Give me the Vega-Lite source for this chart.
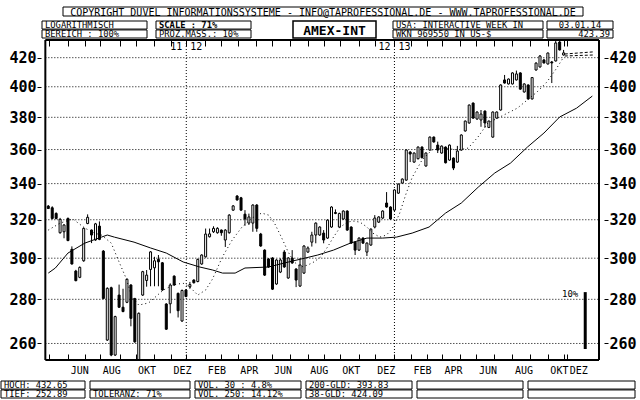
{
  "$schema": "https://vega.github.io/schema/vega-lite/v6.json",
  "background": "white",
  "padding": {"top": 6, "left": 0, "right": 0, "bottom": 0},
  "spacing": 0,
  "config": {
    "view": {"stroke": null},
    "font": "DejaVu Sans Mono",
    "text": {"color": "black"}
  },
  "datasets": {
    "hdr": [
      {"box": "C", "line": "1", "t": "COPYRIGHT  DUVEL INFORMATIONSSYSTEME - INFO@TAPROFESSIONAL.DE - WWW.TAPROFESSIONAL.DE"},
      {"box": "L", "line": "1", "t": "LOGARITHMISCH"},
      {"box": "L", "line": "2", "t": "BEREICH :    100%"},
      {"box": "S", "line": "1", "t": "SCALE : 71%"},
      {"box": "S", "line": "2", "t": "PROZ.MASS.:  10%"},
      {"box": "N", "line": "1", "t": "AMEX-INT"},
      {"box": "U", "line": "1", "t": "USA: INTERACTIVE WEEK IN"},
      {"box": "U", "line": "2", "t": "WKN 969550  IN US-$"},
      {"box": "D", "line": "1", "t": "03.01.14"},
      {"box": "D", "line": "2", "t": "423.39"}
    ],
    "ftr": [
      {"box": "F1", "line": "1", "t": "HOCH: 432.65"},
      {"box": "F1", "line": "2", "t": "TIEF: 252.89"},
      {"box": "F2", "line": "1", "t": ""},
      {"box": "F2", "line": "2", "t": "TOLERANZ: 71%"},
      {"box": "F3", "line": "1", "t": "VOL. 30 :  4.8%"},
      {"box": "F3", "line": "2", "t": "VOL. 250: 14.12%"},
      {"box": "F4", "line": "1", "t": "200-GLD: 393.83"},
      {"box": "F4", "line": "2", "t": "38-GLD: 424.09"},
      {"box": "F5", "line": "1", "t": ""},
      {"box": "F5", "line": "2", "t": ""},
      {"box": "F6", "line": "1", "t": ""},
      {"box": "F6", "line": "2", "t": ""}
    ],
    "years": [
      {"i": 36.08, "a": "11", "b": "12"},
      {"i": 89, "a": "12", "b": "13"}
    ],
    "levels": [
      {"v": 260}, {"v": 280}, {"v": 300}, {"v": 320}, {"v": 340}, {"v": 360}, {"v": 380}, {"v": 400}, {"v": 420}
    ],
    "candles": [
      {"i":1,"o":327.4,"h":328.0,"l":325.8,"c":326.1},
      {"i":2,"o":326.5,"h":327.3,"l":320.2,"c":320.7},
      {"i":3,"o":323.4,"h":324.0,"l":320.2,"c":320.7},
      {"i":4,"o":313.1,"h":321.0,"l":312.6,"c":320.2},
      {"i":5,"o":313.6,"h":317.6,"l":310.2,"c":317.2},
      {"i":6,"o":320.7,"h":321.2,"l":308.7,"c":309.0},
      {"i":7,"o":304.5,"h":306.0,"l":296.8,"c":297.1},
      {"i":8,"o":293.6,"h":294.2,"l":288.6,"c":288.9},
      {"i":9,"o":290.5,"h":295.9,"l":290.1,"c":295.4},
      {"i":10,"o":298.7,"h":315.8,"l":298.2,"c":315.4},
      {"i":11,"o":318.0,"h":322.9,"l":317.6,"c":321.3},
      {"i":12,"o":314.5,"h":314.8,"l":307.7,"c":311.9},
      {"i":13,"o":309.3,"h":318.3,"l":308.9,"c":317.8},
      {"i":14,"o":316.6,"h":319.1,"l":309.2,"c":309.6},
      {"i":15,"o":303.6,"h":304.1,"l":280.0,"c":280.4},
      {"i":16,"o":261.5,"h":285.7,"l":261.1,"c":285.2},
      {"i":17,"o":285.5,"h":286.0,"l":254.5,"c":255.0},
      {"i":18,"o":255.0,"h":272.4,"l":254.6,"c":272.0},
      {"i":19,"o":282.0,"h":287.0,"l":276.0,"c":276.3},
      {"i":20,"o":276.3,"h":285.0,"l":274.0,"c":274.3},
      {"i":21,"o":278.6,"h":290.0,"l":278.2,"c":289.6},
      {"i":22,"o":286.8,"h":287.2,"l":267.6,"c":271.2},
      {"i":23,"o":280.3,"h":280.7,"l":260.3,"c":260.7},
      {"i":24,"o":252.9,"h":273.9,"l":252.9,"c":273.5},
      {"i":25,"o":282.0,"h":293.7,"l":281.6,"c":293.3},
      {"i":26,"o":289.0,"h":294.1,"l":286.0,"c":291.6},
      {"i":27,"o":294.4,"h":303.6,"l":286.2,"c":303.2},
      {"i":28,"o":295.2,"h":300.7,"l":286.2,"c":298.7},
      {"i":29,"o":299.4,"h":301.6,"l":286.2,"c":298.2},
      {"i":30,"o":297.7,"h":298.1,"l":284.0,"c":284.4},
      {"i":31,"o":277.8,"h":278.2,"l":266.0,"c":266.3},
      {"i":32,"o":277.9,"h":287.6,"l":273.5,"c":286.8},
      {"i":33,"o":291.1,"h":291.5,"l":286.4,"c":286.8},
      {"i":34,"o":282.8,"h":283.2,"l":271.6,"c":274.7},
      {"i":35,"o":270.0,"h":284.6,"l":269.6,"c":284.2},
      {"i":36,"o":284.4,"h":284.8,"l":281.0,"c":281.3},
      {"i":37,"o":286.0,"h":288.3,"l":285.0,"c":287.0},
      {"i":38,"o":289.2,"h":289.6,"l":287.5,"c":287.9},
      {"i":39,"o":288.5,"h":299.8,"l":288.1,"c":299.4},
      {"i":40,"o":297.1,"h":302.0,"l":296.7,"c":301.6},
      {"i":41,"o":300.7,"h":315.3,"l":300.3,"c":312.4},
      {"i":42,"o":311.0,"h":315.3,"l":310.6,"c":312.5},
      {"i":43,"o":313.6,"h":316.5,"l":313.0,"c":315.4},
      {"i":44,"o":313.1,"h":316.0,"l":312.6,"c":315.4},
      {"i":45,"o":314.5,"h":314.8,"l":311.5,"c":313.1},
      {"i":46,"o":309.3,"h":315.0,"l":305.7,"c":314.5},
      {"i":47,"o":313.1,"h":323.0,"l":312.6,"c":322.5},
      {"i":48,"o":325.2,"h":328.0,"l":324.8,"c":327.5},
      {"i":49,"o":333.0,"h":333.5,"l":330.4,"c":330.8},
      {"i":50,"o":332.0,"h":332.5,"l":324.8,"c":325.2},
      {"i":51,"o":323.0,"h":325.2,"l":316.8,"c":320.4},
      {"i":52,"o":318.2,"h":323.3,"l":317.2,"c":321.5},
      {"i":53,"o":318.2,"h":328.4,"l":313.6,"c":328.0},
      {"i":54,"o":328.0,"h":328.5,"l":313.6,"c":315.4},
      {"i":55,"o":312.4,"h":313.0,"l":305.8,"c":306.2},
      {"i":56,"o":304.1,"h":304.5,"l":291.2,"c":291.6},
      {"i":57,"o":299.6,"h":300.0,"l":295.2,"c":295.6},
      {"i":58,"o":300.1,"h":300.5,"l":284.4,"c":284.8},
      {"i":59,"o":287.3,"h":299.5,"l":286.9,"c":299.1},
      {"i":60,"o":293.1,"h":299.9,"l":292.6,"c":299.1},
      {"i":61,"o":303.1,"h":304.1,"l":295.2,"c":295.6},
      {"i":62,"o":290.2,"h":300.5,"l":289.8,"c":300.1},
      {"i":63,"o":300.1,"h":304.1,"l":297.2,"c":297.6},
      {"i":64,"o":294.6,"h":295.0,"l":285.8,"c":289.2},
      {"i":65,"o":286.3,"h":300.1,"l":285.9,"c":296.6},
      {"i":66,"o":292.6,"h":306.6,"l":292.2,"c":306.2},
      {"i":67,"o":303.1,"h":306.0,"l":302.7,"c":305.2},
      {"i":68,"o":308.2,"h":313.6,"l":305.9,"c":311.9},
      {"i":69,"o":311.9,"h":318.6,"l":307.6,"c":318.2},
      {"i":70,"o":311.9,"h":316.5,"l":311.5,"c":316.1},
      {"i":71,"o":312.9,"h":314.5,"l":307.6,"c":309.3},
      {"i":72,"o":310.3,"h":320.2,"l":309.9,"c":319.8},
      {"i":73,"o":316.1,"h":327.3,"l":315.7,"c":326.9},
      {"i":74,"o":323.9,"h":325.6,"l":323.0,"c":323.4},
      {"i":75,"o":316.1,"h":323.8,"l":315.7,"c":323.4},
      {"i":76,"o":320.4,"h":325.1,"l":320.0,"c":324.7},
      {"i":77,"o":324.7,"h":325.1,"l":314.1,"c":314.5},
      {"i":78,"o":316.1,"h":316.5,"l":307.3,"c":307.7},
      {"i":79,"o":308.2,"h":308.6,"l":301.6,"c":304.1},
      {"i":80,"o":304.1,"h":310.7,"l":303.7,"c":310.3},
      {"i":81,"o":310.3,"h":310.7,"l":307.3,"c":307.7},
      {"i":82,"o":303.1,"h":308.1,"l":301.1,"c":307.7},
      {"i":83,"o":306.7,"h":315.4,"l":306.3,"c":315.0},
      {"i":84,"o":316.1,"h":322.5,"l":315.4,"c":320.9},
      {"i":85,"o":318.7,"h":321.9,"l":318.3,"c":321.5},
      {"i":86,"o":320.9,"h":325.1,"l":320.5,"c":324.7},
      {"i":87,"o":329.1,"h":335.2,"l":326.5,"c":326.9},
      {"i":88,"o":326.9,"h":327.3,"l":320.0,"c":320.4},
      {"i":89,"o":325.2,"h":336.8,"l":324.8,"c":336.4},
      {"i":90,"o":334.6,"h":340.1,"l":334.2,"c":339.7},
      {"i":91,"o":340.3,"h":343.0,"l":339.9,"c":342.6},
      {"i":92,"o":342.0,"h":360.1,"l":341.6,"c":359.7},
      {"i":93,"o":358.5,"h":359.0,"l":352.5,"c":357.3},
      {"i":94,"o":352.5,"h":358.3,"l":352.1,"c":357.9},
      {"i":95,"o":354.5,"h":361.9,"l":354.1,"c":361.5},
      {"i":96,"o":361.5,"h":361.9,"l":354.7,"c":355.1},
      {"i":97,"o":350.2,"h":358.3,"l":349.8,"c":357.9},
      {"i":98,"o":359.7,"h":368.0,"l":359.3,"c":367.6},
      {"i":99,"o":367.6,"h":368.0,"l":364.2,"c":364.6},
      {"i":100,"o":362.7,"h":364.8,"l":357.9,"c":359.7},
      {"i":101,"o":357.9,"h":362.5,"l":357.5,"c":362.1},
      {"i":102,"o":361.5,"h":361.9,"l":351.7,"c":352.1},
      {"i":103,"o":353.7,"h":363.1,"l":353.3,"c":362.7},
      {"i":104,"o":354.9,"h":355.3,"l":347.8,"c":349.0},
      {"i":105,"o":352.5,"h":362.2,"l":352.1,"c":359.1},
      {"i":106,"o":359.7,"h":369.3,"l":359.3,"c":368.9},
      {"i":107,"o":371.4,"h":378.0,"l":371.0,"c":377.6},
      {"i":108,"o":376.4,"h":388.3,"l":376.0,"c":387.9},
      {"i":109,"o":389.2,"h":389.6,"l":379.1,"c":379.5},
      {"i":110,"o":378.9,"h":383.8,"l":378.5,"c":383.4},
      {"i":111,"o":378.3,"h":384.7,"l":374.0,"c":382.1},
      {"i":112,"o":384.0,"h":384.4,"l":373.4,"c":376.4},
      {"i":113,"o":373.6,"h":378.0,"l":373.2,"c":377.6},
      {"i":114,"o":367.6,"h":383.8,"l":367.2,"c":383.4},
      {"i":115,"o":379.5,"h":383.8,"l":379.1,"c":383.4},
      {"i":116,"o":384.7,"h":401.6,"l":384.3,"c":401.2},
      {"i":117,"o":404.6,"h":408.0,"l":402.1,"c":402.5},
      {"i":118,"o":401.9,"h":405.6,"l":401.5,"c":405.2},
      {"i":119,"o":401.9,"h":409.8,"l":401.5,"c":409.4},
      {"i":120,"o":404.6,"h":411.0,"l":404.2,"c":408.7},
      {"i":121,"o":409.4,"h":409.8,"l":398.0,"c":398.4},
      {"i":122,"o":396.5,"h":402.3,"l":396.1,"c":401.9},
      {"i":123,"o":401.2,"h":401.6,"l":391.5,"c":391.9},
      {"i":124,"o":391.9,"h":406.6,"l":391.5,"c":406.2},
      {"i":125,"o":411.4,"h":416.8,"l":411.0,"c":416.2},
      {"i":126,"o":413.5,"h":421.8,"l":413.1,"c":421.2},
      {"i":127,"o":418.4,"h":419.2,"l":415.9,"c":416.3},
      {"i":128,"o":415.6,"h":423.7,"l":415.2,"c":423.3},
      {"i":129,"o":417.0,"h":417.7,"l":402.5,"c":416.3},
      {"i":130,"o":417.7,"h":432.65,"l":417.3,"c":430.5},
      {"i":131,"o":431.2,"h":432.0,"l":425.1,"c":425.5},
      {"i":132,"o":421.9,"h":425.5,"l":421.5,"c":423.39}
    ],
    "ma200": [
      {"i":1,"v":292.6},{"i":2.8,"v":295.1},{"i":6,"v":302.6},{"i":10.3,"v":307.7},{"i":14.5,"v":310.8},
      {"i":16,"v":311.9},{"i":17.8,"v":310.8},{"i":22.8,"v":308.2},{"i":27,"v":305.2},{"i":31,"v":302.6},
      {"i":35.3,"v":298.1},{"i":39.5,"v":295.6},{"i":42.8,"v":294.1},{"i":45.3,"v":292.6},{"i":48.5,"v":292.6},
      {"i":51,"v":295.1},{"i":57,"v":295.6},{"i":61,"v":297.6},{"i":65.3,"v":299.6},{"i":69.5,"v":301.6},
      {"i":73.5,"v":304.1},{"i":77.8,"v":307.7},{"i":82,"v":310.3},{"i":86,"v":310.3},{"i":89.5,"v":310.8},
      {"i":93.5,"v":312.9},{"i":97.8,"v":316.1},{"i":102,"v":323.6},{"i":106,"v":329.1},{"i":110.3,"v":338.0},
      {"i":114.5,"v":346.1},{"i":118.5,"v":351.9},{"i":122.8,"v":361.5},{"i":127,"v":370.1},{"i":131,"v":380.2},
      {"i":135.3,"v":385.9},{"i":139.3,"v":393.8}
    ],
    "ma38": [
      {"i":1,"v":314.5},{"i":4,"v":318.2},{"i":7.25,"v":320.4},{"i":10.25,"v":315.6},{"i":12.75,"v":312.9},
      {"i":14.5,"v":311.9},{"i":17,"v":307.7},{"i":19,"v":298.1},{"i":20.75,"v":290.2},{"i":22.25,"v":281.1},
      {"i":24,"v":277.3},{"i":26.5,"v":278.3},{"i":30.25,"v":284.4},{"i":32.75,"v":286.8},{"i":35.25,"v":287.7},
      {"i":37,"v":285.8},{"i":39,"v":282.0},{"i":41,"v":284.4},{"i":42.75,"v":289.7},{"i":45.25,"v":300.6},
      {"i":47.75,"v":309.3},{"i":50.25,"v":316.1},{"i":52.75,"v":320.9},{"i":55.25,"v":323.6},{"i":57,"v":322.5},
      {"i":58.5,"v":318.2},{"i":60.25,"v":310.8},{"i":62,"v":303.1},{"i":63.5,"v":298.1},{"i":65.25,"v":295.6},
      {"i":67,"v":296.6},{"i":68.5,"v":298.1},{"i":70.25,"v":300.6},{"i":72,"v":305.7},{"i":73.5,"v":310.8},
      {"i":75.25,"v":316.1},{"i":77,"v":318.7},{"i":78.5,"v":319.3},{"i":80.25,"v":318.7},{"i":82,"v":316.1},
      {"i":83.5,"v":312.9},{"i":85.25,"v":310.8},{"i":87,"v":311.9},{"i":88.5,"v":315.6},{"i":90.25,"v":323.0},
      {"i":92,"v":334.6},{"i":93.5,"v":343.5},{"i":96,"v":353.7},{"i":98.5,"v":359.7},{"i":101.5,"v":360.9},
      {"i":105.25,"v":359.7},{"i":107.75,"v":360.9},{"i":110.25,"v":367.7},{"i":112.75,"v":376.4},{"i":115.25,"v":379.5},
      {"i":117.75,"v":382.7},{"i":120.25,"v":385.9},{"i":122.75,"v":391.2},{"i":125.25,"v":396.5},{"i":127.75,"v":403.2},
      {"i":130.25,"v":412.7},{"i":132,"v":420.4}
    ],
    "proj": [
      {"s":"a","i":132.3,"v":422.6},{"s":"a","i":139.5,"v":424.1},
      {"s":"b","i":132.3,"v":421.2},{"s":"b","i":139.5,"v":421.9}
    ],
    "scalebar": [
      {"i":137.5,"lo":257.6,"hi":283.4,"t":"10%"}
    ]
  },
  "vconcat": [
    {
      "spacing": 2,
      "vconcat": [
        {
          "spacing": 6,
          "hconcat": [
            {"width": 55, "height": 9, "data": {"values": []}, "mark": "text"},
            {
              "width": 520, "height": 9,
              "data": {"name": "hdr"},
              "transform": [{"filter": "datum.box == 'C'"}],
              "layer": [
                {"mark": {"type": "rect", "fill": "white", "stroke": "black", "strokeWidth": 1}},
                {"mark": {"type": "text", "fontSize": 10, "baseline": "middle", "dy": 1}, "encoding": {"text": {"field": "t"}}}
              ]
            }
          ]
        },
        {
          "spacing": 2,
          "hconcat": [
            {"width": 38, "height": 17, "data": {"values": []}, "mark": "text"},
            {
              "width": 105, "height": 17,
              "data": {"name": "hdr"},
              "transform": [{"filter": "datum.box == 'L'"}],
              "encoding": {
                "y": {"field": "line", "type": "nominal", "axis": null, "scale": {"type": "band", "domain": ["1", "2"], "paddingInner": 0.1, "paddingOuter": 0}},
                "x": {"field": "box", "type": "nominal", "axis": null, "scale": {"type": "band", "paddingInner": 0, "paddingOuter": 0}}
              },
              "layer": [
                {"mark": {"type": "rect", "fill": "white", "stroke": "black", "strokeWidth": 1}},
                {"mark": {"type": "text", "align": "left", "dx": 3, "fontSize": 8.8}, "encoding": {"x": {"field": "box", "type": "nominal", "axis": null, "bandPosition": 0}, "text": {"field": "t"}}}
              ]
            },
            {"width": 3, "height": 17, "data": {"values": []}, "mark": "text"},
            {
              "width": 95, "height": 17,
              "data": {"name": "hdr"},
              "transform": [{"filter": "datum.box == 'S'"}],
              "encoding": {
                "y": {"field": "line", "type": "nominal", "axis": null, "scale": {"type": "band", "domain": ["1", "2"], "paddingInner": 0.1, "paddingOuter": 0}},
                "x": {"field": "box", "type": "nominal", "axis": null, "scale": {"type": "band", "paddingInner": 0, "paddingOuter": 0}}
              },
              "layer": [
                {"mark": {"type": "rect", "fill": "white", "stroke": "black", "strokeWidth": 1}},
                {"transform": [{"filter": "datum.line == '1'"}], "mark": {"type": "text", "align": "left", "dx": 3, "fontSize": 8.8, "fontWeight": "bold"}, "encoding": {"x": {"field": "box", "type": "nominal", "axis": null, "bandPosition": 0}, "text": {"field": "t"}}},
                {"transform": [{"filter": "datum.line == '2'"}], "mark": {"type": "text", "align": "left", "dx": 3, "fontSize": 8.8}, "encoding": {"x": {"field": "box", "type": "nominal", "axis": null, "bandPosition": 0}, "text": {"field": "t"}}}
              ]
            },
            {"width": 36, "height": 17, "data": {"values": []}, "mark": "text"},
            {
              "width": 83, "height": 17,
              "data": {"name": "hdr"},
              "transform": [{"filter": "datum.box == 'N'"}],
              "layer": [
                {"mark": {"type": "rect", "fill": "white", "stroke": "black", "strokeWidth": 1.5}},
                {"mark": {"type": "text", "fontSize": 13, "fontWeight": "bold", "baseline": "middle", "dy": 1}, "encoding": {"text": {"field": "t"}}}
              ]
            },
            {"width": 11, "height": 17, "data": {"values": []}, "mark": "text"},
            {
              "width": 150, "height": 17,
              "data": {"name": "hdr"},
              "transform": [{"filter": "datum.box == 'U'"}],
              "encoding": {
                "y": {"field": "line", "type": "nominal", "axis": null, "scale": {"type": "band", "domain": ["1", "2"], "paddingInner": 0.1, "paddingOuter": 0}},
                "x": {"field": "box", "type": "nominal", "axis": null, "scale": {"type": "band", "paddingInner": 0, "paddingOuter": 0}}
              },
              "layer": [
                {"mark": {"type": "rect", "fill": "white", "stroke": "black", "strokeWidth": 1}},
                {"mark": {"type": "text", "align": "left", "dx": 3, "fontSize": 8.8}, "encoding": {"x": {"field": "box", "type": "nominal", "axis": null, "bandPosition": 0}, "text": {"field": "t"}}}
              ]
            },
            {
              "width": 66, "height": 17,
              "data": {"name": "hdr"},
              "transform": [{"filter": "datum.box == 'D'"}],
              "encoding": {
                "y": {"field": "line", "type": "nominal", "axis": null, "scale": {"type": "band", "domain": ["1", "2"], "paddingInner": 0.1, "paddingOuter": 0}},
                "x": {"field": "box", "type": "nominal", "axis": null, "scale": {"type": "band", "paddingInner": 0, "paddingOuter": 0}}
              },
              "layer": [
                {"mark": {"type": "rect", "fill": "white", "stroke": "black", "strokeWidth": 1}},
                {"transform": [{"filter": "datum.line == '1'"}], "mark": {"type": "text", "align": "center", "fontSize": 8.8}, "encoding": {"x": {"field": "box", "type": "nominal", "axis": null, "bandPosition": 0.5}, "text": {"field": "t"}}},
                {"transform": [{"filter": "datum.line == '2'"}], "mark": {"type": "text", "align": "right", "dx": -3, "fontSize": 8.8}, "encoding": {"x": {"field": "box", "type": "nominal", "axis": null, "bandPosition": 1}, "text": {"field": "t"}}}
              ]
            }
          ]
        }
      ]
    },
    {
      "width": 603,
      "height": 320,
      "resolve": {"axis": {"x": "independent", "y": "independent"}},
      "layer": [
        {
          "data": {"name": "levels"},
          "mark": {"type": "rule", "color": "black", "strokeWidth": 1, "strokeDash": [1, 2]},
          "encoding": {
            "y": {"field": "v", "type": "quantitative", "scale": {"type": "log", "domain": [252.89, 432.65], "nice": false, "zero": false}, "axis": null},
            "x": {"datum": 0.25, "type": "quantitative", "scale": {"domain": [-9.75, 141], "nice": false, "zero": false}, "axis": null},
            "x2": {"datum": 141}
          }
        },
        {
          "data": {"name": "years"},
          "mark": {"type": "rule", "color": "black", "strokeWidth": 1, "strokeDash": [1, 2]},
          "encoding": {
            "x": {"field": "i", "type": "quantitative",
              "scale": {"domain": [-9.75, 141], "nice": false, "zero": false},
              "axis": {"orient": "top", "values": [1.08,6.08,10.25,14.18,19.18,23.18,27.93,32.18,36.08,40.93,44.83,49.18,53.75,57.75,62.33,66.93,71.08,75.08,80.08,84,89,93.18,97.33,101.08,105.68,109.83,114.43,119,123.58,128,132.08,132.93],
                "offset": -6, "tickSize": 6, "tickColor": "black", "tickWidth": 1, "labels": false, "domain": false, "grid": false, "title": null, "minExtent": 0, "maxExtent": 0}}
          }
        },
        {
          "data": {"name": "candles"},
          "mark": {"type": "rule", "color": "black", "strokeWidth": 1},
          "encoding": {
            "x": {"field": "i", "type": "quantitative",
              "scale": {"domain": [-9.75, 141], "nice": false, "zero": false},
              "axis": {"orient": "bottom", "values": [1.08,6.08,10.25,14.18,19.18,23.18,27.93,32.18,36.08,40.93,44.83,49.18,53.75,57.75,62.33,66.93,71.08,75.08,80.08,84,89,93.18,97.33,101.08,105.68,109.83,114.43,119,123.58,128,132.08,132.93],
                "offset": -6, "tickSize": 6, "tickColor": "black", "tickWidth": 1, "domain": false, "grid": false, "title": null,
                "labelExpr": "['JUN','AUG','OKT','DEZ','FEB','APR','JUN','AUG','OKT','DEZ','FEB','APR','JUN','AUG','OKT','DEZ'][indexof([6.08,14.18,23.18,32.18,40.93,49.18,57.75,66.93,75.08,84,93.18,101.08,109.83,119,128,132.93], datum.value)] || ''",
                "labelAlign": "left", "labelBaseline": "top", "labelOffset": 2, "labelPadding": 5, "labelFontSize": 10, "labelColor": "black",
                "labelOverlap": false, "labelBound": false, "labelFlush": false, "minExtent": 26, "maxExtent": 26}},
            "y": {"field": "l", "type": "quantitative",
              "scale": {"type": "log", "domain": [252.89, 432.65], "nice": false, "zero": false},
              "axis": {"orient": "left", "offset": -40, "values": [260, 280, 300, 320, 340, 360, 380, 400, 420], "format": "d",
                "tickSize": 4, "tickColor": "black", "labelPadding": 1, "labelFontSize": 15, "labelFontWeight": "bold", "labelColor": "black",
                "grid": false, "domain": false, "title": null, "labelOverlap": false, "labelFlush": false, "labelBound": false, "minExtent": 0, "maxExtent": 0}},
            "y2": {"field": "h"}
          }
        },
        {
          "data": {"name": "candles"},
          "mark": {"type": "bar", "width": 2, "stroke": "black", "strokeWidth": 1},
          "encoding": {
            "x": {"field": "i", "type": "quantitative", "scale": {"domain": [-9.75, 141], "nice": false, "zero": false}, "axis": null},
            "y": {"field": "o", "type": "quantitative",
              "scale": {"type": "log", "domain": [252.89, 432.65], "nice": false, "zero": false},
              "axis": {"orient": "right", "values": [260, 280, 300, 320, 340, 360, 380, 400, 420], "format": "d",
                "tickSize": 4, "tickColor": "black", "labelPadding": 1, "labelFontSize": 15, "labelFontWeight": "bold", "labelColor": "black",
                "grid": false, "domain": false, "title": null, "labelOverlap": false, "labelFlush": false, "labelBound": false, "minExtent": 37, "maxExtent": 37}},
            "y2": {"field": "c"},
            "fill": {"condition": {"test": "datum.c < datum.o", "value": "black"}, "value": "white"}
          }
        },
        {
          "data": {"name": "ma200"},
          "mark": {"type": "line", "color": "black", "strokeWidth": 1},
          "encoding": {
            "x": {"field": "i", "type": "quantitative", "scale": {"domain": [-9.75, 141], "nice": false, "zero": false}, "axis": null},
            "y": {"field": "v", "type": "quantitative", "scale": {"type": "log", "domain": [252.89, 432.65], "nice": false, "zero": false}, "axis": null}
          }
        },
        {
          "data": {"name": "ma38"},
          "mark": {"type": "line", "color": "black", "strokeWidth": 1, "strokeDash": [1, 3]},
          "encoding": {
            "x": {"field": "i", "type": "quantitative", "scale": {"domain": [-9.75, 141], "nice": false, "zero": false}, "axis": null},
            "y": {"field": "v", "type": "quantitative", "scale": {"type": "log", "domain": [252.89, 432.65], "nice": false, "zero": false}, "axis": null}
          }
        },
        {
          "data": {"name": "proj"},
          "mark": {"type": "line", "color": "black", "strokeWidth": 1, "strokeDash": [3, 2]},
          "encoding": {
            "x": {"field": "i", "type": "quantitative", "scale": {"domain": [-9.75, 141], "nice": false, "zero": false}, "axis": null},
            "y": {"field": "v", "type": "quantitative", "scale": {"type": "log", "domain": [252.89, 432.65], "nice": false, "zero": false}, "axis": null},
            "detail": {"field": "s"}
          }
        },
        {
          "data": {"name": "scalebar"},
          "mark": {"type": "rule", "color": "black", "strokeWidth": 3},
          "encoding": {
            "x": {"field": "i", "type": "quantitative", "scale": {"domain": [-9.75, 141], "nice": false, "zero": false}, "axis": null},
            "y": {"field": "lo", "type": "quantitative", "scale": {"type": "log", "domain": [252.89, 432.65], "nice": false, "zero": false}, "axis": null},
            "y2": {"field": "hi"}
          }
        },
        {
          "data": {"name": "scalebar"},
          "mark": {"type": "text", "align": "right", "baseline": "middle", "dx": -7, "dy": 2, "fontSize": 9},
          "encoding": {
            "x": {"field": "i", "type": "quantitative", "scale": {"domain": [-9.75, 141], "nice": false, "zero": false}, "axis": null},
            "y": {"field": "hi", "type": "quantitative", "scale": {"type": "log", "domain": [252.89, 432.65], "nice": false, "zero": false}, "axis": null},
            "text": {"field": "t"}
          }
        },
        {
          "data": {"name": "years"},
          "mark": {"type": "text", "align": "right", "baseline": "middle", "dx": -4, "fontSize": 10},
          "encoding": {
            "x": {"field": "i", "type": "quantitative", "scale": {"domain": [-9.75, 141], "nice": false, "zero": false}, "axis": null},
            "y": {"datum": 427.5, "type": "quantitative", "scale": {"type": "log", "domain": [252.89, 432.65], "nice": false, "zero": false}, "axis": null},
            "text": {"field": "a"}
          }
        },
        {
          "data": {"name": "years"},
          "mark": {"type": "text", "align": "left", "baseline": "middle", "dx": 4, "fontSize": 10},
          "encoding": {
            "x": {"field": "i", "type": "quantitative", "scale": {"domain": [-9.75, 141], "nice": false, "zero": false}, "axis": null},
            "y": {"datum": 427.5, "type": "quantitative", "scale": {"type": "log", "domain": [252.89, 432.65], "nice": false, "zero": false}, "axis": null},
            "text": {"field": "b"}
          }
        },
        {
          "data": {"values": [{}]},
          "mark": {"type": "rule", "color": "black", "strokeWidth": 2},
          "encoding": {
            "x": {"datum": 0.25, "type": "quantitative", "scale": {"domain": [-9.75, 141], "nice": false, "zero": false}, "axis": null}
          }
        },
        {
          "data": {"values": [{}]},
          "mark": {"type": "rule", "color": "black", "strokeWidth": 2},
          "encoding": {
            "x": {"datum": 141, "type": "quantitative", "scale": {"domain": [-9.75, 141], "nice": false, "zero": false}, "axis": null}
          }
        },
        {
          "data": {"values": [{}]},
          "mark": {"type": "rule", "color": "black", "strokeWidth": 2},
          "encoding": {
            "x": {"datum": 0.25, "type": "quantitative", "scale": {"domain": [-9.75, 141], "nice": false, "zero": false}, "axis": null},
            "x2": {"datum": 141},
            "y": {"datum": 432.65, "type": "quantitative", "scale": {"type": "log", "domain": [252.89, 432.65], "nice": false, "zero": false}, "axis": null}
          }
        },
        {
          "data": {"values": [{}]},
          "mark": {"type": "rule", "color": "black", "strokeWidth": 2},
          "encoding": {
            "x": {"datum": 0.25, "type": "quantitative", "scale": {"domain": [-9.75, 141], "nice": false, "zero": false}, "axis": null},
            "x2": {"datum": 141},
            "y": {"datum": 252.89, "type": "quantitative", "scale": {"type": "log", "domain": [252.89, 432.65], "nice": false, "zero": false}, "axis": null}
          }
        }
      ]
    },
    {
      "spacing": 3,
      "hconcat": [
        {"width": 84, "height": 17, "data": {"name": "ftr"}, "transform": [{"filter": "datum.box == 'F1'"}],
          "encoding": {"y": {"field": "line", "type": "nominal", "axis": null, "scale": {"type": "band", "domain": ["1", "2"], "paddingInner": 0.1, "paddingOuter": 0}},
            "x": {"field": "box", "type": "nominal", "axis": null, "scale": {"type": "band", "paddingInner": 0, "paddingOuter": 0}}},
          "layer": [
            {"mark": {"type": "rect", "fill": "white", "stroke": "black", "strokeWidth": 1}},
            {"mark": {"type": "text", "align": "left", "dx": 3, "fontSize": 8.8}, "encoding": {"x": {"field": "box", "type": "nominal", "axis": null, "bandPosition": 0}, "text": {"field": "t"}}}
          ]},
        {"width": 100, "height": 17, "data": {"name": "ftr"}, "transform": [{"filter": "datum.box == 'F2'"}],
          "encoding": {"y": {"field": "line", "type": "nominal", "axis": null, "scale": {"type": "band", "domain": ["1", "2"], "paddingInner": 0.1, "paddingOuter": 0}},
            "x": {"field": "box", "type": "nominal", "axis": null, "scale": {"type": "band", "paddingInner": 0, "paddingOuter": 0}}},
          "layer": [
            {"mark": {"type": "rect", "fill": "white", "stroke": "black", "strokeWidth": 1}},
            {"mark": {"type": "text", "align": "left", "dx": 3, "fontSize": 8.8}, "encoding": {"x": {"field": "box", "type": "nominal", "axis": null, "bandPosition": 0}, "text": {"field": "t"}}}
          ]},
        {"width": 106, "height": 17, "data": {"name": "ftr"}, "transform": [{"filter": "datum.box == 'F3'"}],
          "encoding": {"y": {"field": "line", "type": "nominal", "axis": null, "scale": {"type": "band", "domain": ["1", "2"], "paddingInner": 0.1, "paddingOuter": 0}},
            "x": {"field": "box", "type": "nominal", "axis": null, "scale": {"type": "band", "paddingInner": 0, "paddingOuter": 0}}},
          "layer": [
            {"mark": {"type": "rect", "fill": "white", "stroke": "black", "strokeWidth": 1}},
            {"mark": {"type": "text", "align": "left", "dx": 3, "fontSize": 8.8}, "encoding": {"x": {"field": "box", "type": "nominal", "axis": null, "bandPosition": 0}, "text": {"field": "t"}}}
          ]},
        {"width": 106, "height": 17, "data": {"name": "ftr"}, "transform": [{"filter": "datum.box == 'F4'"}],
          "encoding": {"y": {"field": "line", "type": "nominal", "axis": null, "scale": {"type": "band", "domain": ["1", "2"], "paddingInner": 0.1, "paddingOuter": 0}},
            "x": {"field": "box", "type": "nominal", "axis": null, "scale": {"type": "band", "paddingInner": 0, "paddingOuter": 0}}},
          "layer": [
            {"mark": {"type": "rect", "fill": "white", "stroke": "black", "strokeWidth": 1}},
            {"mark": {"type": "text", "align": "left", "dx": 3, "fontSize": 8.8}, "encoding": {"x": {"field": "box", "type": "nominal", "axis": null, "bandPosition": 0}, "text": {"field": "t"}}}
          ]},
        {"width": 106, "height": 17, "data": {"name": "ftr"}, "transform": [{"filter": "datum.box == 'F5'"}],
          "encoding": {"y": {"field": "line", "type": "nominal", "axis": null, "scale": {"type": "band", "domain": ["1", "2"], "paddingInner": 0.1, "paddingOuter": 0}},
            "x": {"field": "box", "type": "nominal", "axis": null, "scale": {"type": "band", "paddingInner": 0, "paddingOuter": 0}}},
          "layer": [
            {"mark": {"type": "rect", "fill": "white", "stroke": "black", "strokeWidth": 1}}
          ]},
        {"width": 107, "height": 17, "data": {"name": "ftr"}, "transform": [{"filter": "datum.box == 'F6'"}],
          "encoding": {"y": {"field": "line", "type": "nominal", "axis": null, "scale": {"type": "band", "domain": ["1", "2"], "paddingInner": 0.1, "paddingOuter": 0}},
            "x": {"field": "box", "type": "nominal", "axis": null, "scale": {"type": "band", "paddingInner": 0, "paddingOuter": 0}}},
          "layer": [
            {"mark": {"type": "rect", "fill": "white", "stroke": "black", "strokeWidth": 1}}
          ]}
      ]
    }
  ]
}
